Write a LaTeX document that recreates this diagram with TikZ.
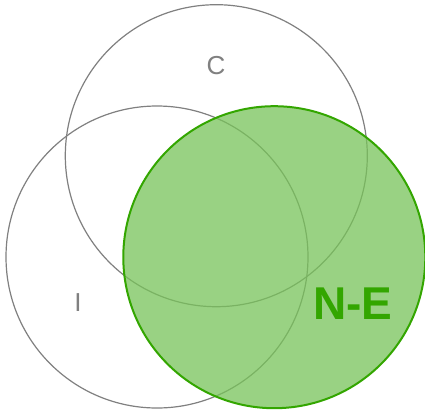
\documentclass[tikz,border=0pt]{standalone}
\usepackage{fontspec}
\setmainfont{Liberation Sans}
\definecolor{ringgray}{RGB}{128,128,128}
\definecolor{negreen}{RGB}{51,166,0}
\definecolor{nefill}{RGB}{120,196,90}
\begin{document}
\begin{tikzpicture}[x=1pt,y=-1pt,
  ring/.style={draw=ringgray,line width=1.2pt},
  nering/.style={draw=negreen,line width=2pt,fill=nefill,fill opacity=0.75},
  lbl/.style={text=ringgray,font=\fontsize{26}{28}\selectfont,inner sep=0pt},
  nelbl/.style={text=negreen,font=\fontsize{46}{48}\selectfont\bfseries,inner sep=0pt}]
\useasboundingbox (0,0) rectangle (425,410);
\fill[white] (0,0) rectangle (425,410);
\node[circle,ring,minimum size=302pt,inner sep=0pt] (C) at (216.3,155.7) {};
\node[circle,ring,minimum size=302pt,inner sep=0pt] (I) at (157,257) {};
\node[circle,nering,minimum size=302pt,inner sep=0pt] (NE) at (274.3,257.2) {};
\node[lbl] (lc) at (216,66) {C};
\node[lbl] (li) at (78,303) {I};
\node[nelbl] (lne) at (353,304) {N-E};
\end{tikzpicture}
\end{document}
